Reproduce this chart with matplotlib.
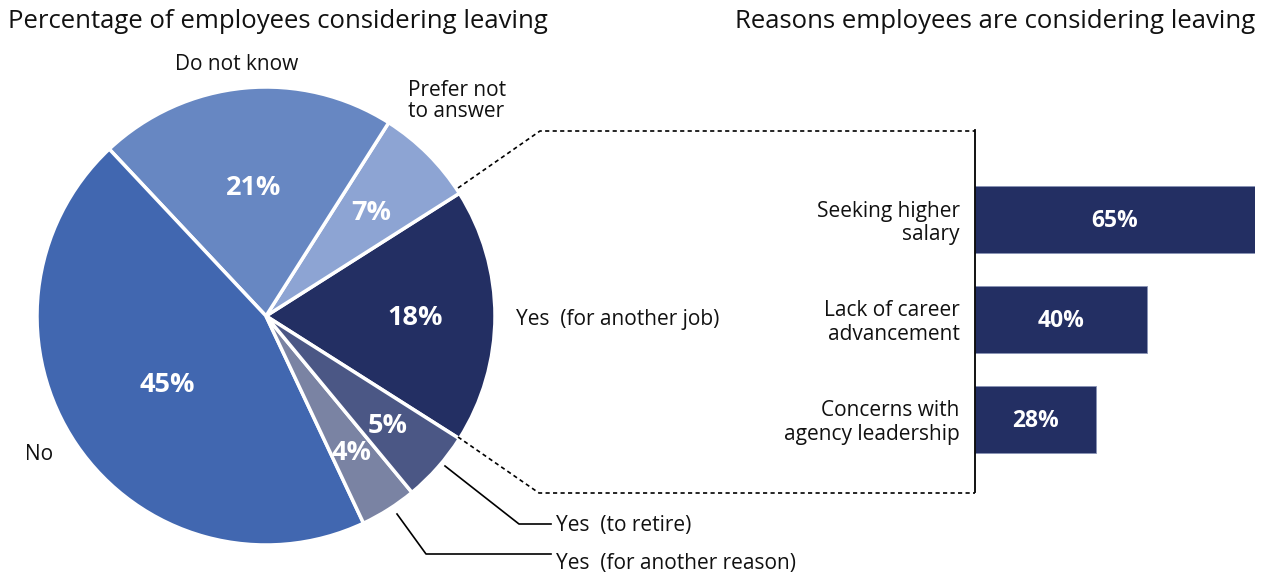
import numpy as np
import matplotlib.pyplot as plt

plt.rcParams['font.family'] = ['Open Sans', 'DejaVu Sans']

# pie: share of employees considering leaving
pie_labels = ['Yes  (for another job)', 'Prefer not\nto answer', 'Do not know',
              'No', 'Yes  (for another reason)', 'Yes  (to retire)']
pie_values = [18, 7, 21, 45, 4, 5]
pie_colors = ['#232F63', '#8DA4D3', '#6787C2', '#4167B0', '#7A83A3', '#4B5785']

# bars: reasons among those leaving for another job
reasons = ['Seeking higher\nsalary', 'Lack of career\nadvancement',
           'Concerns with\nagency leadership']
reason_values = [65, 40, 28]
navy = '#232F63'

W, H = 1268, 577
fig = plt.figure(figsize=(W / 100, H / 100), dpi=100)

# full-figure axes in pixel units (y measured upwards)
ax = fig.add_axes([0, 0, 1, 1])

cx, cy, r = 266, H - 316, 229
total = sum(pie_values)
start = -360 * (pie_values[-1] + pie_values[-2]) / total
wedges, _ = ax.pie(pie_values, colors=pie_colors, startangle=start,
                   counterclock=True, center=(cx, cy), radius=r,
                   wedgeprops=dict(edgecolor='white', linewidth=2.5),
                   frame=True)
ax.set_xlim(0, W)
ax.set_ylim(0, H)
ax.set_aspect('equal')
ax.axis('off')

# percentage labels inside the slices
pct_dist = [0.65, 0.65, 0.57, 0.52, 0.70, 0.71]
for w, v, d in zip(wedges, pie_values, pct_dist):
    mid = np.deg2rad((w.theta1 + w.theta2) / 2)
    ax.text(cx + d * r * np.cos(mid), cy + d * r * np.sin(mid) - 2, f'{v}%',
            ha='center', va='center', color='white', fontsize=19.5,
            fontweight='bold')

lbl = dict(fontsize=15, color='#111111', va='center')
ax.text(237, H - 65, pie_labels[2], ha='center', **lbl)
ax.text(408, H - 101, pie_labels[1], ha='left', linespacing=1.05, **lbl)
ax.text(516, H - 320, pie_labels[0], ha='left', **lbl)
ax.text(25, H - 455, pie_labels[3], ha='left', **lbl)
ax.text(556, H - 526, pie_labels[5], ha='left', **lbl)
ax.text(556, H - 563, pie_labels[4], ha='left', **lbl)

# leader lines for the small slices
ax.plot([445, 519, 551], [H - 466, H - 524, H - 524], color='black', lw=1.2)
ax.plot([397, 426, 551], [H - 514, H - 554, H - 554], color='black', lw=1.2)

# dotted connector from the 18% slice to the bar panel
dot = dict(color='black', lw=1.2, linestyle=(0, (2.5, 2)))
ax.plot([458, 540, 975], [H - 188, H - 131, H - 131], **dot)
ax.plot([458, 539, 975], [H - 437, H - 493, H - 493], **dot)

# titles
ax.text(8, H - 21, 'Percentage of employees considering leaving',
        ha='left', va='center', fontsize=18.5, color='#111111')
ax.text(1255, H - 21, 'Reasons employees are considering leaving',
        ha='right', va='center', fontsize=18.5, color='#111111')

# bar panel
bx0, bx1 = 975, 1255
by0, by1 = 130, 492
bax = fig.add_axes([bx0 / W, 1 - by1 / H, (bx1 - bx0) / W, (by1 - by0) / H])
bax.patch.set_alpha(0)
y = np.arange(len(reasons))
bax.barh(y, reason_values, height=0.67, color=navy, edgecolor='#8893B5',
         linewidth=0.6)
bax.set_xlim(0, max(reason_values))
bax.set_ylim(2.73, -0.89)
for s in ['top', 'right', 'bottom']:
    bax.spines[s].set_visible(False)
bax.spines['left'].set_linewidth(1.3)
bax.set_xticks([])
bax.set_yticks(y)
bax.set_yticklabels(reasons, fontsize=15, color='#111111', linespacing=1.15)
bax.tick_params(axis='y', length=0, pad=11)
for yi, v in zip(y, reason_values):
    bax.text(v / 2, yi + 0.02, f'{v}%', ha='center', va='center',
             color='white', fontsize=16.5, fontweight='bold')

fig.savefig('out.png', dpi=100)
